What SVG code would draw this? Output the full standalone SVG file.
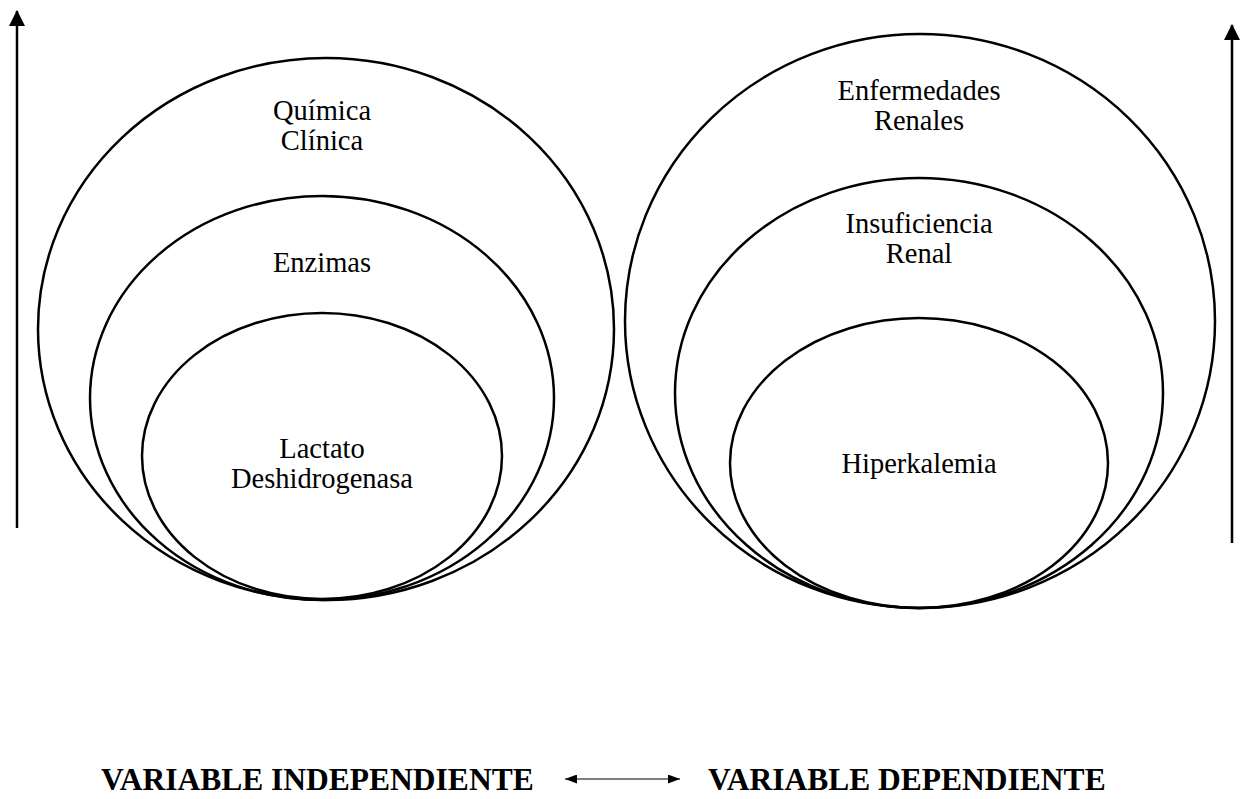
<svg xmlns="http://www.w3.org/2000/svg" width="1246" height="799" viewBox="0 0 1246 799">
<style>
.c{fill:none;stroke:#000;stroke-width:2.5}
.t{font-family:"Liberation Serif","Times New Roman",serif;font-size:28.5px;fill:#000;text-anchor:middle}
.b{font-family:"Liberation Serif","Times New Roman",serif;font-size:31.5px;font-weight:bold;fill:#000}
.a{stroke:#000;stroke-width:2.5;fill:none}
</style>
<defs>
<marker id="ah" markerWidth="16" markerHeight="16" viewBox="0 0 16 16" refX="15" refY="8" orient="auto" markerUnits="userSpaceOnUse"><path d="M0,0 L16,8 L0,16 Z" fill="#000"/></marker>
<marker id="sh" markerWidth="12" markerHeight="9" viewBox="0 0 12 9" refX="12" refY="4.5" orient="auto-start-reverse" markerUnits="userSpaceOnUse"><path d="M0,0 L12,4.5 L0,9 Z" fill="#000"/></marker>
</defs>
<g id="quimica-clinica"><ellipse class="c" cx="326" cy="329" rx="288" ry="271"/><text class="t" x="322" y="120">Química</text><text class="t" x="322" y="150">Clínica</text></g>
<g id="enzimas"><ellipse class="c" cx="322" cy="398" rx="232" ry="202"/><text class="t" x="322" y="272">Enzimas</text></g>
<g id="lactato"><ellipse class="c" cx="322" cy="456" rx="180" ry="143"/><text class="t" x="322" y="458">Lactato</text><text class="t" x="322" y="488">Deshidrogenasa</text></g>
<g id="enfermedades-renales"><ellipse class="c" cx="920" cy="321" rx="295" ry="287"/><text class="t" x="919" y="100">Enfermedades</text><text class="t" x="919" y="130">Renales</text></g>
<g id="insuficiencia-renal"><ellipse class="c" cx="919" cy="393" rx="244" ry="215"/><text class="t" x="919" y="233">Insuficiencia</text><text class="t" x="919" y="263">Renal</text></g>
<g id="hiperkalemia"><ellipse class="c" cx="919" cy="463" rx="189" ry="145"/><text class="t" x="919" y="473">Hiperkalemia</text></g>
<g id="labels"><text class="b" x="101" y="790">VARIABLE INDEPENDIENTE</text><text class="b" x="708" y="790">VARIABLE DEPENDIENTE</text></g>
<g id="connectors">
<line class="a" x1="17" y1="528" x2="17" y2="11" marker-end="url(#ah)"/>
<line class="a" x1="1232" y1="543" x2="1232" y2="25" marker-end="url(#ah)"/>
<line x1="565" y1="779" x2="680" y2="779" stroke="#000" stroke-width="1.2" marker-start="url(#sh)" marker-end="url(#sh)"/>
</g>
</svg>
